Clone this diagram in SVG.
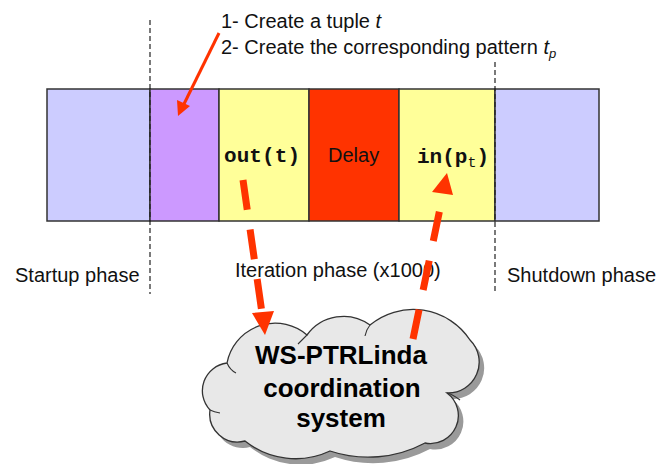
<svg xmlns="http://www.w3.org/2000/svg" width="661" height="464" viewBox="0 0 661 464">
<style>
.col{stroke:#333;stroke-width:1.5}
.lbl{font-family:"Liberation Sans",Arial,sans-serif;font-size:20px;fill:#111}
.mono{font-family:"Liberation Mono","Courier New",monospace;font-size:21px;font-weight:bold;fill:#111}
.cl{font-family:"Liberation Sans",Arial,sans-serif;font-size:26px;font-weight:bold;fill:#000;text-anchor:middle}
.vd{stroke:#222;stroke-width:1.2;stroke-dasharray:5,3;fill:none}
.red{fill:#ff3300}
.dash{stroke:#ff3300;stroke-width:7;stroke-dasharray:30,20;fill:none}
.notch{stroke:#333;stroke-width:1.1;fill:none}
</style>
<defs>
<path id="cloudShape" d="M210,410 A28,28 0 0 1 227,363 A49,49 0 0 1 307,335 A45,45 0 0 1 370,325 A68,68 0 0 1 470,340 A31,31 0 0 1 447,393 A28,28 0 0 1 425,443 A121,121 0 0 1 330,451 A81,81 0 0 1 245,441 A28,28 0 0 1 210,410 Z"/>
</defs>
<rect width="661" height="464" fill="#fff"/>
<g id="bar">
<g id="startup-block"><rect class="col" x="47" y="89" width="103" height="132" fill="#ccccff"/></g>
<g id="create-block"><rect class="col" x="150" y="89" width="69" height="132" fill="#cc99ff"/></g>
<g id="out-block"><rect class="col" x="219" y="89" width="90" height="132" fill="#ffff99"/>
<text class="mono" x="224" y="162" textLength="76">out(t)</text></g>
<g id="delay-block"><rect class="col" x="309" y="89" width="90" height="132" fill="#ff3300"/>
<text class="lbl" x="328" y="162">Delay</text></g>
<g id="in-block"><rect class="col" x="399" y="89" width="96" height="132" fill="#ffff99"/>
<text class="mono" x="417" y="163">in(p<tspan font-size="15" font-weight="normal" dy="4">t</tspan><tspan dy="-4">)</tspan></text></g>
<g id="shutdown-block"><rect class="col" x="495" y="89" width="104" height="132" fill="#ccccff"/></g>
</g>
<g id="phase-lines">
<line class="vd" x1="150" y1="20" x2="150" y2="294"/>
<line class="vd" x1="495" y1="62" x2="495" y2="294"/>
</g>
<g id="labels">
<text class="lbl" x="221" y="28">1- Create a tuple <tspan font-style="italic">t</tspan></text>
<text class="lbl" x="221" y="54">2- Create the corresponding pattern <tspan font-style="italic">t</tspan><tspan font-style="italic" font-size="13" dy="4">p</tspan></text>
<text class="lbl" x="15" y="282">Startup phase</text>
<text class="lbl" x="235" y="277">Iteration phase (x1000)</text>
<text class="lbl" x="507" y="282">Shutdown phase</text>
</g>
<g id="cloud">
<use href="#cloudShape" transform="translate(5,6)" fill="#9a9a9a"/>
<use href="#cloudShape" fill="#e8e8e8" stroke="#333" stroke-width="1.3"/>
<path class="notch" d="M227,363 Q230,370 236,373 M307,335 Q302,340 298,344 M370,325 Q366,330 365,336 M447,393 Q452,394 460,400 M210,410 Q214,412 220,413"/>
<text class="cl" x="341" y="364">WS-PTRLinda</text>
<text class="cl" x="342" y="397">coordination</text>
<text class="cl" x="341" y="427">system</text>
</g>
<g id="connectors">
<line x1="219" y1="33" x2="183" y2="106" stroke="#ff3300" stroke-width="3"/>
<polygon class="red" points="178,116 177,100 190,106"/>
<line class="dash" x1="243" y1="180" x2="262" y2="313"/>
<polygon class="red" points="265,335 252,313 274,311"/>
<line class="dash" x1="413" y1="339" x2="443" y2="194"/>
<polygon class="red" points="447,173 432,192 453,195"/>
</g>
</svg>
